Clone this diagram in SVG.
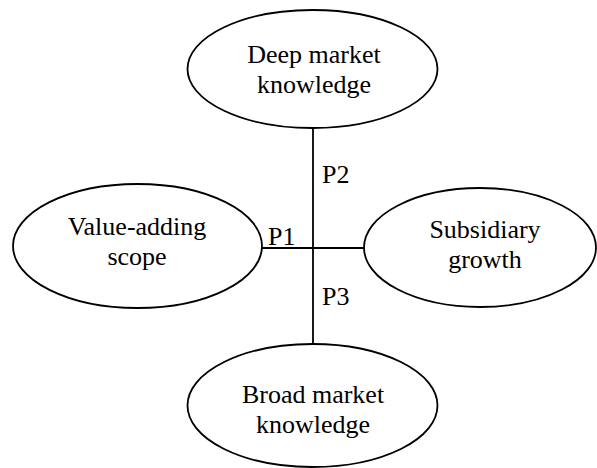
<svg xmlns="http://www.w3.org/2000/svg" width="597" height="468" viewBox="0 0 597 468">
<style>
.node ellipse{fill:#fff;stroke:#000;stroke-width:1.8}
.conn line{stroke:#000;stroke-width:1.8}
text{font-family:'Liberation Serif','Tinos','Noto Serif','DejaVu Serif',serif;font-size:26px;fill:#000}
.c{text-anchor:middle}
</style>
<rect width="597" height="468" fill="#fff"/>
<g id="connectors" class="conn">
<line x1="313" y1="128" x2="313" y2="344"/>
<line x1="262" y1="248" x2="364" y2="248"/>
</g>
<g id="labels">
<text x="322" y="183">P2</text>
<text x="268" y="245">P1</text>
<text x="322" y="305">P3</text>
</g>
<g id="deep" class="node">
<ellipse cx="312.5" cy="69" rx="125" ry="59"/>
<text class="c" x="314" y="63">Deep market</text>
<text class="c" x="314" y="93">knowledge</text>
</g>
<g id="value" class="node">
<ellipse cx="137.5" cy="246" rx="124.5" ry="62"/>
<text class="c" x="137" y="235">Value-adding</text>
<text class="c" x="137" y="265">scope</text>
</g>
<g id="growth" class="node">
<ellipse cx="480" cy="247.5" rx="116" ry="59.5"/>
<text class="c" x="485" y="238">Subsidiary</text>
<text class="c" x="485" y="268">growth</text>
</g>
<g id="broad" class="node">
<ellipse cx="312.5" cy="405.5" rx="125" ry="61.5"/>
<text class="c" x="313" y="403">Broad market</text>
<text class="c" x="313" y="433">knowledge</text>
</g>
</svg>
